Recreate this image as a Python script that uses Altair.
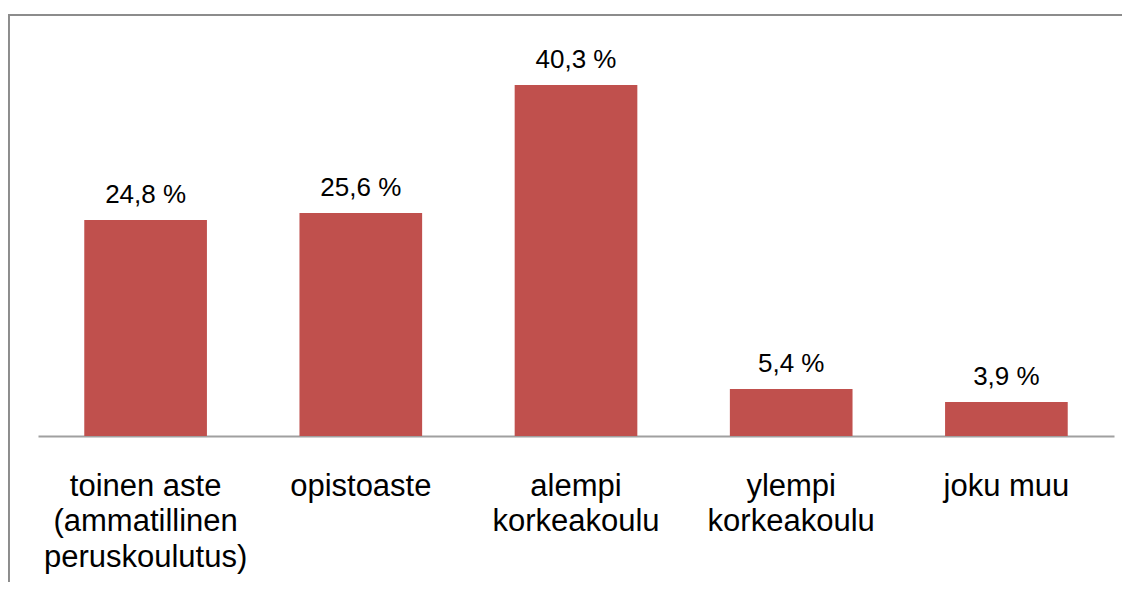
import altair as alt
import pandas as pd

categories = [
    "toinen aste\n(ammatillinen\nperuskoulutus)",
    "opistoaste",
    "alempi\nkorkeakoulu",
    "ylempi\nkorkeakoulu",
    "joku muu",
]
values = [24.8, 25.6, 40.3, 5.4, 3.9]
value_labels = [f"{v:.1f}".replace(".", ",") + " %" for v in values]

df = pd.DataFrame({"cat": categories, "val": values, "lab": value_labels})

FONT = "Liberation Sans"

x = alt.X(
    "cat:N",
    sort=None,
    title=None,
    scale=alt.Scale(paddingInner=0.43, paddingOuter=0.215),
    axis=alt.Axis(
        labelAngle=0,
        labelFontSize=31,
        labelFont=FONT,
        labelColor="#000000",
        labelLineHeight=35.5,
        labelPadding=35,
        labelLimit=0,
        labelBaseline="top",
        labelExpr="split(datum.label, '\\n')",
        ticks=False,
        grid=False,
        domainColor="#a0a0a0",
        domainWidth=2,
    ),
)
y = alt.Y(
    "val:Q",
    title=None,
    scale=alt.Scale(domain=[0, 49.14], nice=False, zero=True),
    axis=None,
)

bars = alt.Chart(df).mark_bar(color="#C0504D").encode(x=x, y=y)
texts = alt.Chart(df).mark_text(
    baseline="alphabetic", dy=-17, fontSize=26, font=FONT, color="#000000"
).encode(x=x, y=y, text="lab:N")

border = alt.Chart(df).mark_rect(
    filled=False, stroke="#8c8c8c", strokeWidth=2
).encode(
    x=alt.value(-29.5), x2=alt.value(1300), y=alt.value(7), y2=alt.value(800)
)

chart = (
    alt.layer(border, bars, texts)
    .properties(
        width=1076,
        height=428,
        background="white",
        autosize=alt.AutoSizeParams(type="none"),
        padding={"left": 30, "top": 0, "right": 8, "bottom": 146},
    )
    .configure_view(stroke="transparent", strokeWidth=0)
)

chart.save("out.html", embed_options={"renderer": "svg", "actions": False})
